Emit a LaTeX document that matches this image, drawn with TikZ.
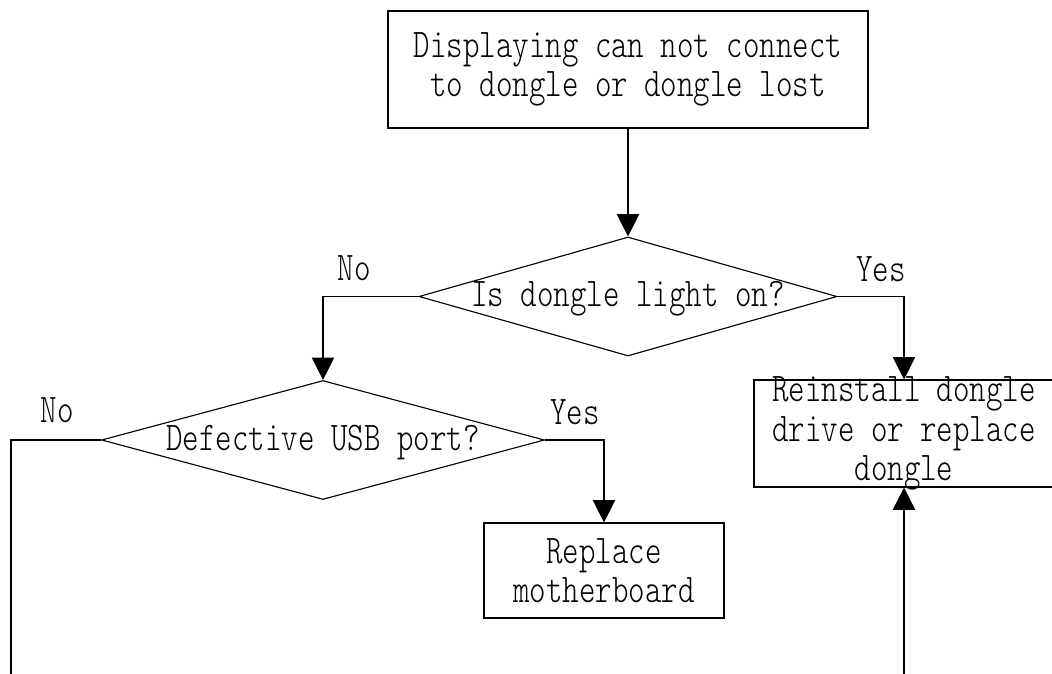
\documentclass[tikz,border=0pt]{standalone}
\usepackage{fontspec}
\newfontfamily\flowfont[Extension=.otf,FakeStretch=0.77]{lmmonolt10-regular}
\usetikzlibrary{arrows.meta,shapes.geometric}
\newcommand{\flowtext}{\flowfont\fontsize{29pt}{28pt}\selectfont}% narrow mono text of the chart
\tikzset{
  box/.style={draw, line width=0.8pt, align=center, inner sep=0pt, font=\flowtext},
  decision/.style={diamond, draw, line width=0.8pt, inner sep=0pt, aspect=3.5,
    text height=0.5cm, text depth=0pt, font=\flowtext},
  answer/.style={anchor=base, font=\flowtext},
  link/.style={line width=0.8pt},
  flow/.style={link, -{Triangle[length=0.56cm,width=0.56cm]}}
}

\begin{document}
\begin{tikzpicture}[x=1cm,y=1cm]
  \useasboundingbox (0,0) rectangle (26.3,16.825);
  % boxes and questions
  \node[box, minimum width=12cm, minimum height=2.925cm] (start) at (15.7,15.0875)
    {Displaying can not connect\\to dongle or dongle lost};
  \node[decision, minimum width=10.45cm, minimum height=2.975cm] (light) at (15.7,9.4125) {Is dongle light on?};
  \node[decision, minimum width=11.075cm, minimum height=2.975cm] (usb) at (8.075,5.825) {Defective USB port?};
  \node[box, minimum width=7.5cm, minimum height=2.675cm, inner ysep=-3mm] (reinstall) at (22.6,5.9875)
    {Reinstall dongle\\drive or replace\\dongle};
  \node[box, minimum width=6cm, minimum height=2.375cm] (board) at (15.1,2.5625) {Replace\\motherboard};
  % loose ends running off the page
  \coordinate (leftend) at (0.275,-0.3);
  \coordinate (bottomend) at (22.6,-0.3);
  \draw[flow] (start) -- (light);
  \draw[flow] (light.west) -| (usb.north);
  \draw[flow] (light.east) -| (reinstall.north);
  \draw[flow] (usb.east) -| (board.north);
  \draw[link] (usb.west) -| (leftend);
  \draw[flow] (bottomend) -- (reinstall.south);
  % answers
  \node[answer] (nolight) at (8.85,9.8) {No};
  \node[answer] (yeslight) at (22.025,9.775) {Yes};
  \node[answer] (nousb) at (1.425,6.25) {No};
  \node[answer] (yesusb) at (14.375,6.2) {Yes};
\end{tikzpicture}
\end{document}
